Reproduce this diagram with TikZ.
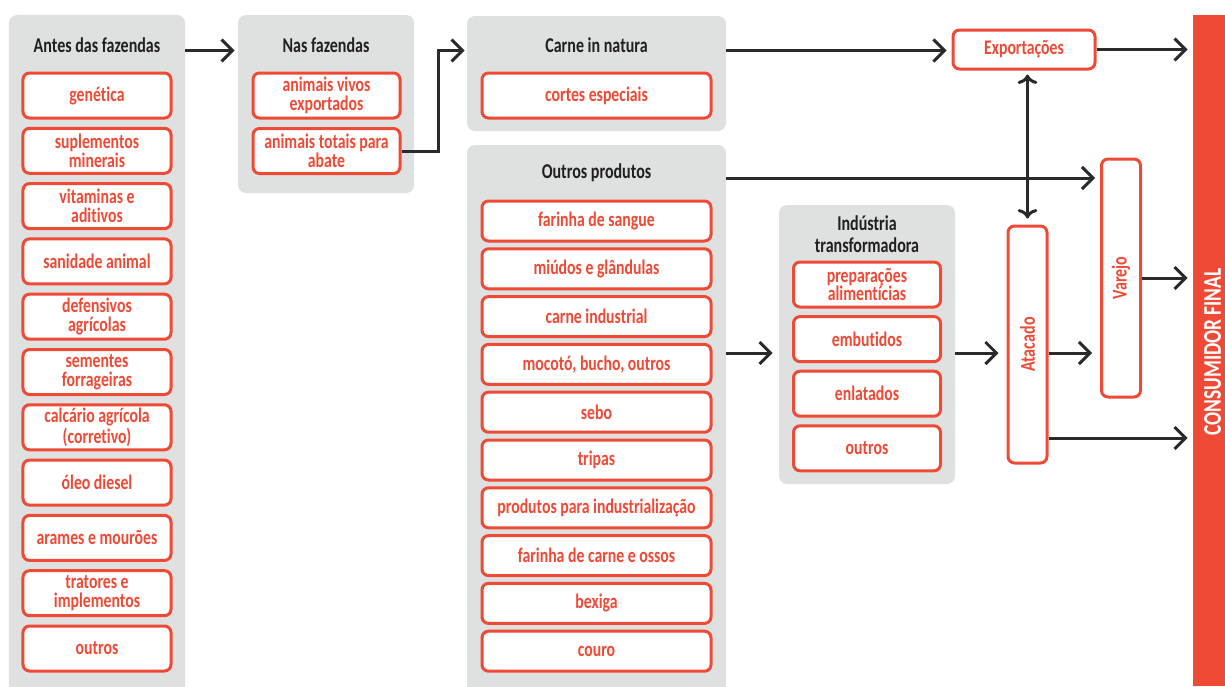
\documentclass[tikz,border=0pt]{standalone}
\usepackage{fontspec}
\setmainfont{Carlito}[FakeStretch=0.76,Ligatures=NoCommon]
\usetikzlibrary{arrows.meta}
\definecolor{tred}{HTML}{EE4A35}
\definecolor{pgray}{HTML}{DFE0E0}
\definecolor{tdark}{HTML}{231F20}
\definecolor{arr}{HTML}{2A2A2A}
\begin{document}
\begin{tikzpicture}[x=0.2mm,y=-0.2mm,
  panel/.style={fill=pgray,rounded corners=1.6mm,inner sep=0},
  head/.style={text=tdark,font=\bfseries\fontsize{12}{12.5}\selectfont,align=center},
  item/.style={draw=tred,line width=0.6mm,fill=white,rounded corners=1.3mm,text=tred,
    font=\bfseries\fontsize{11.8}{10.6}\selectfont,align=center,inner sep=0,minimum height=9mm},
  vlabel/.style={rotate=90,text=tred,font=\bfseries\fontsize{12}{9.6}\selectfont},
  flow/.style={draw=arr,line width=0.6mm,-{Straight Barb[length=2.2mm,width=4.4mm]}}]
\useasboundingbox (0,0) rectangle (1225,686);
\clip (0,0) rectangle (1225,686);
% panels
\node[panel,minimum width=35.2mm,minimum height=137mm] (antes) at (97,357.5) {};
\node[panel,minimum width=35.2mm,minimum height=35.6mm] (nas) at (326,104) {};
\node[panel,minimum width=51.8mm,minimum height=23mm] (carne) at (596.5,73.5) {};
\node[panel,minimum width=51.8mm,minimum height=111mm] (outros) at (596.5,422.5) {};
\node[panel,minimum width=35.2mm,minimum height=55.8mm] (ind) at (867,344.5) {};
\node[head] (antesT) at (97,45) {Antes das fazendas};
\node[head] (nasT) at (326,45) {Nas fazendas};
\node[head] (carneT) at (596.5,45) {Carne in natura};
\node[head] (outrosT) at (596.5,173) {Outros produtos};
\node[head] (indT) at (867,234) {Indústria\\transformadora};
% items
\foreach \t [count=\i] in {genética,{suplementos\\minerais},{vitaminas e\\aditivos},sanidade animal,
  {defensivos\\agrícolas},{sementes\\forrageiras},{calcário agrícola\\(corretivo)},óleo diesel,
  arames e mourões,{tratores e\\implementos},outros}
  \node[item,minimum width=29.6mm] (a\i) at (97,{95.5+(\i-1)*55.3}) {\t};
\node[item,minimum width=29.4mm] (n1) at (326.5,95.5) {animais vivos\\exportados};
\node[item,minimum width=29.4mm] (n2) at (326.5,151) {animais totais para\\abate};
\node[item,minimum width=45.8mm] (c1) at (596.5,95.5) {cortes especiais};
\foreach \t [count=\i] in {farinha de sangue,miúdos e glândulas,carne industrial,{mocotó, bucho, outros},
  sebo,tripas,produtos para industrialização,farinha de carne e ossos,bexiga,couro}
  \node[item,minimum width=45.8mm,minimum height=8mm] (o\i) at (596.5,{221+(\i-1)*47.8}) {\t};
\foreach \t [count=\i] in {{preparações\\alimentícias},embutidos,enlatados,outros}
  \node[item,minimum width=29.4mm] (t\i) at (867,{284.5+(\i-1)*54.6}) {\t};
% distribution
\node[item,minimum width=28.4mm,minimum height=7.8mm] (expo) at (1024,49.5) {Exportações};
\node[item,minimum width=7.8mm,minimum height=47.4mm] (atac) at (1027.5,344.5) {};
\node[vlabel] (atacL) at (atac) {Atacado};
\node[item,minimum width=7.8mm,minimum height=47.6mm] (var) at (1121,278) {};
\node[vlabel] (varL) at (var) {Varejo};
\node[fill=tred,inner sep=0,minimum width=6.4mm,minimum height=134.2mm] (cons) at (1209,350.5) {};
\node[rotate=90,inner sep=0,text=white,font=\bfseries\fontsize{14.5}{14.5}\selectfont] (consL) at (1212.5,352) {CONSUMIDOR FINAL};
% arrows
\coordinate (r1) at (0,50.5);
\coordinate (r2) at (0,178);
\coordinate (mid) at (0,353);
\coordinate (low) at (0,438);
\draw[flow,shorten >=0.6mm] (antes.east |- r1) -- (nas.west |- r1);
\draw[flow,shorten >=0.4mm] (n2.east) -- ++(37,0) |- (carne.west |- r1);
\draw[flow,shorten >=1mm] (carne.east |- r1) -- (expo.west |- r1);
\draw[flow,shorten >=1mm] (expo.east) -- (cons.west |- expo);
\draw[flow,shorten >=1mm] (outros.east |- r2) -- (var.west |- r2);
\draw[flow,<->,shorten >=1.2mm,shorten <=0.8mm] (atac |- expo.south) -- (atac.north);
\draw[flow,shorten >=1.2mm] (outros.east |- mid) -- (ind.west |- mid);
\draw[flow,shorten >=1.6mm] (ind.east |- mid) -- (atac.west |- mid);
\draw[flow,shorten >=1.6mm] (atac.east |- mid) -- (var.west |- mid);
\draw[flow,shorten >=1mm] (var.east) -- (cons.west |- var);
\draw[flow,shorten >=1mm] (atac.east |- low) -- (cons.west |- low);
\end{tikzpicture}
\end{document}
